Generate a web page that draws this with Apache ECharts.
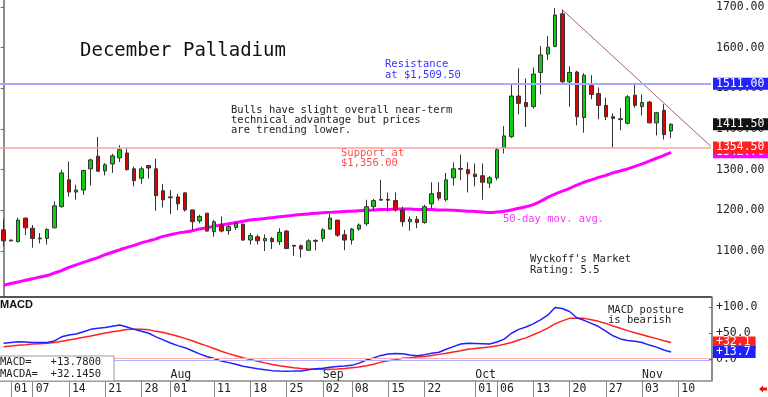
<!DOCTYPE html>
<html>
<head>
<meta charset="utf-8">
<script src="https://cdn.jsdelivr.net/npm/echarts@6.0.0/dist/echarts.min.js"></script>
<style>
html,body{margin:0;padding:0;background:#fff;}
#chart{width:768px;height:397px;}
</style>
</head>
<body>
<div id="chart"></div>
<script>
// ---------- DATA ----------
const categories = [
 '06/30',
 '07/01','07/02','07/03','07/07','07/08','07/09','07/10','07/11','07/14','07/15','07/16','07/17','07/18',
 '07/21','07/22','07/23','07/24','07/25','07/28','07/29','07/30','07/31',
 '08/01','08/04','08/05','08/06','08/07','08/08','08/11','08/12','08/13','08/14','08/15',
 '08/18','08/19','08/20','08/21','08/22','08/25','08/26','08/27','08/28','08/29',
 '09/02','09/03','09/04','09/05','09/08','09/09','09/10','09/11','09/12','09/15','09/16','09/17','09/18','09/19',
 '09/22','09/23','09/24','09/25','09/26','09/29','09/30',
 '10/01','10/02','10/03','10/06','10/07','10/08','10/09','10/10','10/13','10/14','10/15','10/16','10/17',
 '10/20','10/21','10/22','10/23','10/24','10/27','10/28','10/29','10/30','10/31',
 '11/03','11/04','11/05','11/06','11/07','11/10','11/11','11/12','11/13','11/14'
];
const opens = [1152,1127,1123,1181,1156,1130,1131,1157,1209,1275,1245,1250,1302,1333,1297,1314,1329,1341,1302,1279,
 1310,1302,1248,1233,1233,1243,1201,1174,1193,1148,1164,1150,1158,1166,1127,1135,1125,1131,1123,1149,
 1114,1113,1102,1124,1131,1154,1176,1140,1127,1154,1167,1209,1227,1227,1224,1201,1172,1178,1170,1216,
 1244,1226,1280,1303,1300,1289,1285,1267,1280,1354,1381,1481,1465,1455,1539,1584,1603,1683,1516,1540,
 1428,1507,1487,1458,1430,1425,1414,1483,1455,1466,1415,1446,1395];
const closes = [1125,1125,1176,1157,1131,1132,1153,1211,1292,1245,1250,1298,1324,1296,1312,1334,1349,1300,1273,1302,
 1304,1236,1226,1231,1216,1201,1172,1185,1149,1172,1149,1160,1168,1127,1138,1125,1131,1123,1146,1106,
 1112,1105,1125,1126,1152,1181,1139,1127,1154,1164,1209,1224,1225,1225,1201,1172,1178,1170,1209,1241,
 1230,1275,1302,1301,1290,1283,1269,1280,1349,1383,1481,1463,1455,1535,1582,1601,1680,1516,1539,1430,
 1532,1485,1458,1430,1426,1423,1479,1458,1465,1415,1440,1386,1411.5];
const highs = [1179,1128,1182,1182,1164,1144,1156,1222,1300,1320,1263,1300,1327,1380,1316,1339,1360,1352,1307,1307,
 1310,1327,1265,1250,1240,1244,1201,1189,1193,1176,1185,1164,1172,1168,1144,1140,1141,1135,1156,1152,
 1114,1116,1129,1129,1156,1191,1176,1152,1157,1168,1226,1228,1275,1244,1244,1209,1185,1186,1214,1269,
 1269,1292,1318,1337,1318,1315,1315,1284,1354,1407,1510,1549,1524,1551,1604,1628,1697,1693,1554,1543,
 1537,1532,1502,1477,1438,1452,1483,1510,1485,1469,1442,1461,1414];
const lows = [1112,1124,1121,1139,1108,1119,1116,1156,1207,1234,1226,1238,1261,1296,1286,1292,1319,1298,1259,1265,
 1278,1199,1207,1191,1201,1197,1152,1168,1148,1135,1146,1140,1152,1125,1116,1116,1100,1105,1115,1105,
 1088,1084,1100,1102,1123,1152,1135,1102,1116,1150,1162,1199,1224,1197,1197,1160,1150,1156,1167,1205,
 1224,1222,1261,1274,1244,1259,1226,1255,1274,1340,1378,1436,1405,1450,1485,1570,1601,1510,1455,1409,
 1391,1473,1424,1422,1354,1397,1411,1452,1433,1414,1384,1374,1378];
const ma50 = [1016,1020,1024,1028,1032,1036,1040,1046,1052,1060,1066,1072,1078,1084,1091,1097,1103,1109,1114,1120,
 1125,1130,1136,1140,1144,1147,1150,1154,1157,1161,1164,1167,1170,1173,1176,1178,1180,1182,1184,1186,
 1188,1190,1191,1193,1194,1195,1196,1197,1198,1199,1200,1201,1202,1202,1203,1203,1203,1202,1202,1202,
 1201,1201,1200,1199,1198,1197,1196,1195,1196,1198,1201,1205,1209,1214,1222,1232,1240,1247,1254,1262,
 1269,1275,1281,1286,1292,1297,1302,1308,1314,1321,1328,1335,1342.7];
const macd = [30.4,32,33.6,33,32,31.8,32,35,43,46.5,48.5,53,57.5,59.5,61,63.5,65.9,62,57.5,54,
 50,43,37,31,26,22,16,10,5,1,-4,-7,-10,-14,-16.5,-19,-21,-22.5,-23.3,-23.5,
 -23.3,-23,-21,-19,-18,-16,-14.5,-13.5,-12.3,-8,-2,2,7,9.7,10.5,10,8,6.5,8.5,11,
 13,19,24,29,30.4,30,29.5,29,33,38.5,50,57.5,62,68,76,85,100,98,92,80,
 75,69,63,54,45,39,36,34.5,32,27,23,17.5,13.78];
const macdA = [23.8,25,26.5,27.5,29,29.8,30.4,32,34.5,37,39.5,42,44.6,47.5,50.5,53,55,57,57.5,57.5,
 56.5,54,51.5,48,44,40,35.5,30,25.5,20.5,15,10.5,6.5,2.5,-1,-4.5,-7.5,-10.5,-13,-15,
 -17,-18.5,-19.3,-20,-20,-19.8,-19.3,-18.5,-17,-15.5,-13,-10,-6,-3.3,-1.5,1.3,2.5,4,5,7,
 9,11,13.5,16,18.8,20.5,22,23.5,25.5,28.5,32,36.8,41,47,53,60,68,74,78.8,79,
 78.8,76,73,69,64,59.5,55,51,47,43,39.5,35.5,32.145];
const resistanceLevel = 1511.00;
const supportLevel = 1354.50;
const macdRefLines = [1.4, -3.3];
const trendLine = [[77, 1693], [97.5, 1357]];
const priceTicks = [1100, 1200, 1300, 1400, 1500, 1600, 1700];
const macdTicks = [0, 50, 100];
const dayTicks = ['07/01','07/07','07/14','07/21','07/28','08/01','08/11','08/18','08/25','09/02','09/08',
 '09/15','09/22','10/01','10/06','10/13','10/20','10/27','11/03','11/10'];
const monthTicks = ['08/01','09/02','10/01','11/03'];
const monthNames = ['Aug','Sep','Oct','Nov'];

// ---------- STYLE ----------
const MONO = 'DejaVu Sans Mono';
const candleData = opens.map((o, i) => [o, closes[i], lows[i], highs[i]]);
const lastPrice = closes[closes.length - 1];
const lastMA = ma50[ma50.length - 1];
const lastMacd = macd[macd.length - 1];
const lastMacdA = macdA[macdA.length - 1];
const trunc1 = v => (Math.floor(v * 10 + 1e-9) / 10).toFixed(1);

const annotations = [
  {text: 'December Palladium', x: 80, y: 51, color: '#111', size: 19},
  {text: 'Resistance', x: 385, y: 64.5, color: '#3333ff'},
  {text: 'at $1,509.50', x: 385, y: 75, color: '#3333ff'},
  {text: 'Bulls have slight overall near-term', x: 231, y: 110},
  {text: 'technical advantage but prices', x: 231, y: 120},
  {text: 'are trending lower.', x: 231, y: 130},
  {text: 'Support at', x: 341, y: 153.5, color: '#ff4d4d'},
  {text: '$1,356.00', x: 341, y: 163, color: '#ff4d4d'},
  {text: '50-day mov. avg.', x: 503, y: 219.5, color: '#ff33ff'},
  {text: "Wyckoff's Market", x: 530, y: 259.5},
  {text: 'Rating: 5.5', x: 530, y: 270},
  {text: 'MACD posture', x: 608, y: 310.5},
  {text: 'is bearish', x: 608, y: 320.5}
];

const graphics = annotations.map(a => ({
  type: 'text', silent: true, z: 50,
  style: {text: a.text, x: a.x, y: a.y, fill: a.color || '#222',
    font: (a.size || 10.5) + 'px "' + MONO + '"', verticalAlign: 'middle', textVerticalAlign: 'middle'}
}));
graphics.push({type: 'text', silent: true, z: 50,
  style: {text: 'MACD', x: 0, y: 305, fill: '#111', font: 'bold 11px "Liberation Sans"', verticalAlign: 'middle', textVerticalAlign: 'middle'}});
graphics.push({type: 'rect', silent: true, z: 40,
  shape: {x: -1, y: 356, width: 115, height: 25},
  style: {fill: '#fff', stroke: '#999', lineWidth: 1}});
graphics.push({type: 'text', silent: true, z: 50,
  style: {text: 'MACD=   ' + (lastMacd >= 0 ? '+' : '') + lastMacd.toFixed(4), x: 0, y: 362.5, fill: '#222',
    font: '10.5px "' + MONO + '"', verticalAlign: 'middle', textVerticalAlign: 'middle'}});
graphics.push({type: 'text', silent: true, z: 50,
  style: {text: 'MACDA=  ' + (lastMacdA >= 0 ? '+' : '') + lastMacdA.toFixed(4), x: 0, y: 374, fill: '#222',
    font: '10.5px "' + MONO + '"', verticalAlign: 'middle', textVerticalAlign: 'middle'}});
graphics.push({type: 'polygon', silent: true, z: 50,
  shape: {points: [[759,389],[763,385.5],[763,387.5],[767,387.5],[767,390.5],[763,390.5],[763,392.5]]},
  style: {fill: '#ee1111'}});

function boxLabel(bg, fmt) {
  return {show: true, position: 'end', distance: 2, formatter: fmt, color: '#fff', backgroundColor: bg,
    padding: [0, 5, 0, 3], lineHeight: 12, fontFamily: MONO, fontSize: 11.5};
}
const hidden = {color: 'rgba(0,0,0,0)', width: 0};

const chart = echarts.init(document.getElementById('chart'), null, {renderer: 'canvas'});
chart.setOption({
  animation: false,
  backgroundColor: '#fff',
  grid: [
    {left: -2, width: 713, top: 0, height: 297},
    {left: -2, width: 713, top: 297, height: 84}
  ],
  xAxis: [
    {type: 'category', gridIndex: 0, data: categories, boundaryGap: true,
      axisLine: {show: true, onZero: false, lineStyle: {color: '#555', width: 2}},
      axisTick: {show: false}, axisLabel: {show: false}, splitLine: {show: false}},
    {type: 'category', gridIndex: 1, data: categories, boundaryGap: true, position: 'bottom', offset: 0,
      axisLine: {show: true, onZero: false, lineStyle: {color: '#888', width: 1.5}},
      axisTick: {show: true, alignWithLabel: true, length: 16, lineStyle: {color: '#888', width: 1},
        interval: (i, v) => dayTicks.includes(v)},
      axisLabel: {show: true, interval: (i, v) => dayTicks.includes(v), formatter: v => v.slice(3),
        align: 'left', padding: [0, 0, 0, 3], margin: 8, verticalAlign: 'middle',
        fontFamily: MONO, fontSize: 11.5, color: '#222'},
      splitLine: {show: false}},
    {type: 'category', gridIndex: 1, data: categories, boundaryGap: true, position: 'bottom', offset: 0,
      axisLine: {show: false, onZero: false}, axisTick: {show: false},
      axisLabel: {show: true, inside: true, interval: (i, v) => monthTicks.includes(v),
        formatter: v => monthNames[monthTicks.indexOf(v)] || '',
        align: 'left', margin: 6, verticalAlign: 'middle', fontFamily: MONO, fontSize: 11.5, color: '#222'},
      splitLine: {show: false}},
    {type: 'value', gridIndex: 0, min: -0.5, max: categories.length - 0.5, show: false}
  ],
  yAxis: [
    {type: 'value', gridIndex: 0, position: 'right', min: 987, max: 1717, offset: 1,
      axisLine: {show: true, lineStyle: {color: '#666', width: 1.5}},
      axisTick: {show: true, inside: true, length: 3, customValues: priceTicks, lineStyle: {color: '#666'}},
      axisLabel: {customValues: priceTicks, formatter: v => v.toFixed(2), margin: 4, align: 'left',
        fontFamily: MONO, fontSize: 11.5, color: '#222'},
      splitLine: {show: false}},
    {type: 'value', gridIndex: 1, position: 'right', min: -42.6, max: 120.2, offset: 1,
      axisLine: {show: true, lineStyle: {color: '#666', width: 1.5}},
      axisTick: {show: true, inside: true, length: 3, customValues: macdTicks, lineStyle: {color: '#666'}},
      axisLabel: {customValues: macdTicks, formatter: v => (v > 0 ? '+' : '') + v.toFixed(1), margin: 4, align: 'left',
        fontFamily: MONO, fontSize: 11.5, color: '#222'},
      splitLine: {show: false}}
  ],
  graphic: graphics,
  series: [
    {name: 'MA50', type: 'line', xAxisIndex: 0, yAxisIndex: 0, data: ma50, smooth: true, symbol: 'none', z: 2,
      lineStyle: {color: '#ff00ff', width: 3},
      markLine: {silent: true, symbol: ['none', 'none'], animation: false,
        data: [{yAxis: lastMA, lineStyle: hidden, label: boxLabel('#ff00ff', p => p.value.toFixed(2))}]}},
    {name: 'Price', type: 'candlestick', xAxisIndex: 0, yAxisIndex: 0, data: candleData, barWidth: 4, z: 3,
      itemStyle: {color: '#11cc11', color0: '#e00000', borderColor: '#333', borderColor0: '#333', borderWidth: 1},
      markLine: {silent: true, symbol: ['none', 'none'], animation: false,
        data: [
          {yAxis: resistanceLevel, lineStyle: {color: '#a8a8ff', width: 2, type: 'solid'},
            label: boxLabel('#2222ff', p => p.value.toFixed(2))},
          {yAxis: supportLevel, lineStyle: {color: '#ff9f9f', width: 1.5, type: 'solid'},
            label: boxLabel('#ff2020', p => p.value.toFixed(2))},
          {yAxis: lastPrice, lineStyle: hidden, label: boxLabel('#111111', p => p.value.toFixed(2))}
        ]}},
    {name: 'Trend', type: 'line', xAxisIndex: 3, yAxisIndex: 0, data: trendLine, symbol: 'none', z: 4,
      lineStyle: {color: '#a86080', width: 1}},
    {name: 'MACDA', type: 'line', xAxisIndex: 1, yAxisIndex: 1, data: macdA, symbol: 'none', z: 3,
      lineStyle: {color: '#ff2020', width: 1.5},
      markLine: {silent: true, symbol: ['none', 'none'], animation: false,
        data: [
          {yAxis: macdRefLines[0], lineStyle: {color: '#ffb0b0', width: 1, type: 'solid'}, label: {show: false}},
          {yAxis: lastMacdA, lineStyle: hidden, label: boxLabel('#ff2020', p => (p.value >= 0 ? '+' : '') + trunc1(p.value))}
        ]}},
    {name: 'MACD', type: 'line', xAxisIndex: 1, yAxisIndex: 1, data: macd, symbol: 'none', z: 4,
      lineStyle: {color: '#2020ff', width: 1.5},
      markLine: {silent: true, symbol: ['none', 'none'], animation: false,
        data: [
          {yAxis: macdRefLines[1], lineStyle: {color: '#b0b0ff', width: 1, type: 'solid'}, label: {show: false}},
          {yAxis: lastMacd, lineStyle: hidden, label: boxLabel('#2020ff', p => (p.value >= 0 ? '+' : '') + trunc1(p.value))}
        ]}}
  ]
});
</script>
</body>
</html>
